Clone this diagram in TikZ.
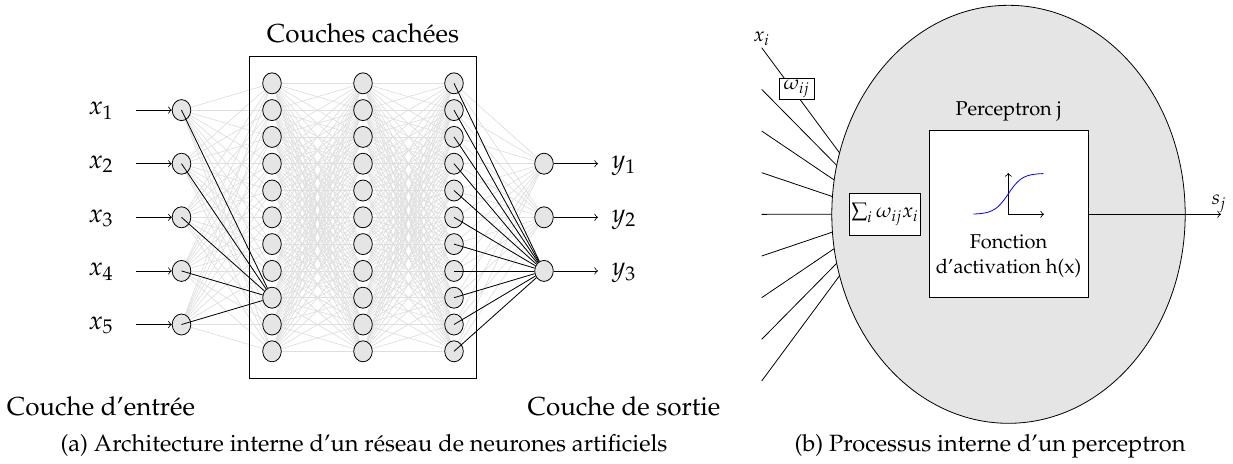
\documentclass[tikz,border=0pt]{standalone}
\usepackage[T1]{fontenc}
\usepackage{mathpazo}
\usetikzlibrary{shapes.geometric}
\pgfdeclarelayer{bg}
\pgfsetlayers{bg,main}
\begin{document}
\begin{tikzpicture}[x=0.5pt,y=-0.5pt,
  neuron/.style={ellipse,draw,fill=gray!20,inner sep=0pt,minimum width=9.3pt,minimum height=10.5pt},
  faint/.style={draw=gray!25,line width=0.35pt},
  strong/.style={draw=black,line width=0.4pt},
  lbltext/.style={font=\fontsize{13}{15}\selectfont,inner sep=0pt},
  captext/.style={font=\fontsize{11.8}{14}\selectfont,inner sep=0pt,anchor=base},
  smalltext/.style={font=\fontsize{10}{12}\selectfont,inner sep=0pt}
]
\useasboundingbox (0,0) rectangle (1233,463);

% ---------------- left: network ----------------
\node[draw,inner sep=0pt,minimum width=113.5pt,minimum height=161pt] (hidbox) at (363,217) {};
\node[lbltext,anchor=base] (hidtitle) at (363,42) {Couches cach\'ees};

\foreach \L/\X in {1/272,2/363,3/454}{
  \foreach \k in {1,...,11}{
    \node[neuron] (h\L-\k) at (\X,{83.3+(\k-1)*26.8}) {};
  }
}
\foreach \j in {1,...,5}{
  \node[neuron] (in\j) at (181.5,{83.3+(2*\j-1)*26.8}) {};
  \node[lbltext,anchor=mid] (xl\j) at (101,{83.3+(2*\j-1)*26.8}) {$x_{\j}$};
  \coordinate (xa\j) at (136,{83.3+(2*\j-1)*26.8});
  \draw[->] (xa\j) -- (in\j);
}
\foreach \m in {1,2,3}{
  \node[neuron] (out\m) at (544,{83.3+(2*\m+1)*26.8}) {};
  \coordinate (ya\m) at (598,{83.3+(2*\m+1)*26.8});
  \draw[->] (out\m) -- (ya\m);
  \node[lbltext,anchor=mid] (yl\m) at (624,{83.3+(2*\m+1)*26.8}) {$y_{\m}$};
}

\begin{pgfonlayer}{bg}
  \foreach \j in {1,...,5}{\foreach \k in {1,...,11}{\draw[faint] (in\j.center) -- (h1-\k.center);}}
  \foreach \a in {1,...,11}{\foreach \b in {1,...,11}{
    \draw[faint] (h1-\a.center) -- (h2-\b.center);
    \draw[faint] (h2-\a.center) -- (h3-\b.center);}}
  \foreach \k in {1,...,11}{\foreach \m in {1,2,3}{\draw[faint] (h3-\k.center) -- (out\m.center);}}
\end{pgfonlayer}

\foreach \j in {1,...,5}{\draw[strong] (in\j.center) -- (h1-9);}
\foreach \k in {1,...,11}{\draw[strong] (h3-\k.center) -- (out3);}

\node[lbltext,anchor=base] (inlayer) at (101,415) {Couche d'entr\'ee};
\node[lbltext,anchor=base] (outlayer) at (624,415) {Couche de sortie};
\node[captext] (capa) at (364,451) {(a) Architecture interne d'un r\'eseau de neurones artificiels};

% ---------------- right: perceptron ----------------
\node[ellipse,draw,fill=gray!20,inner sep=0pt,minimum width=176.7pt,minimum height=209pt] (cell) at (1008.5,214.3) {};
\node[draw,fill=white,inner sep=0pt,minimum width=79.5pt,minimum height=83.5pt] (act) at (1008.5,214.3) {};
\node[draw,fill=white,smalltext,inner sep=1pt,minimum width=35.3pt,minimum height=21pt] (sum) at (885,214.3) {$\sum_i \omega_{ij} x_i$};
\node[smalltext,anchor=base] (ptitle) at (1008.5,115) {Perceptron j};
\node[smalltext,anchor=base] (fn1) at (1008.5,248.3) {Fonction};
\node[smalltext,anchor=base] (fn2) at (1008.5,273.3) {d'activation h(x)};

\coordinate (orig) at (1008.3,214.3);
\coordinate (yax) at (1008.3,173);
\coordinate (xax) at (1044,214.3);
\draw[->] (orig) -- (yax);
\draw[->] (orig) -- (xax);
\draw[blue,line width=0.4pt] plot[domain=-35:35,samples=60] ({1008.3+\x},{214.3-41/(1+exp(-\x/7))});

\coordinate (send) at (1221,214.3);
\draw[->] (act.east) -- (send);
\node[smalltext,anchor=mid] (sj) at (1219,200) {$s_j$};

\foreach \k in {1,...,9}{\coordinate (p\k) at (761.7,{47.7+(\k-1)*41.66});}
\node[smalltext,anchor=south,inner sep=1pt] (xi) at (p1) {$x_i$};
\begin{pgfonlayer}{bg}
  \foreach \k in {1,...,9}{\draw (p\k) -- (sum.center);}
\end{pgfonlayer}
\node[draw,fill=white,smalltext,inner sep=1pt,minimum width=17.7pt,minimum height=10.5pt] (w) at (796.7,88.8) {$\omega_{ij}$};
\node[captext] (capb) at (990,451) {(b) Processus interne d'un perceptron};
\end{tikzpicture}
\end{document}
